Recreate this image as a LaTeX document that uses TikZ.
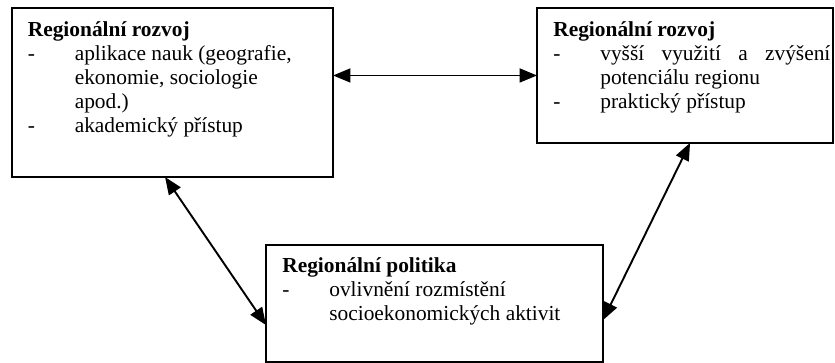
\documentclass[tikz,border=0pt]{standalone}
\usepackage{fontspec}
\setmainfont{Liberation Serif}
\usetikzlibrary{arrows.meta,positioning}
\newcommand{\odrazka}[1]{\par\noindent\hangindent=27pt\hangafter=1\makebox[27pt][l]{-}#1\par}

\begin{document}
\begin{tikzpicture}[>={Triangle[length=10pt,width=8pt]}, x=0.575pt, y=-0.575pt]
    \tikzset{ramec/.style= {draw, rectangle, line width=1.1pt, inner sep=0pt, outer sep=0pt, anchor=north west} }
    \tikzset{obsah/.style= {anchor=base west, inner sep=0pt, align=justify, font={\fontsize{12.3}{13.8}\selectfont}} }
    \tikzset{spoj/.style= {draw, <->, line width=1.1pt} }

    \useasboundingbox (0,0) rectangle (835,363);

    \node[ramec, minimum width=184.6pt, minimum height=97.2pt] (rozvoj-teorie) at (12,8) {};
    \node[ramec, minimum width=170.2pt, minimum height=77.6pt] (rozvoj-praxe) at (537,8) {};
    \node[ramec, minimum width=193.8pt, minimum height=67.3pt] (politika) at (266,245) {};

    \node[obsah, text width=163pt] (rozvoj-teorie-text) at (27.5,37) {\textbf{Regionální rozvoj}\odrazka{aplikace nauk (geografie,\newline ekonomie, sociologie\newline apod.)}\odrazka{akademický přístup}};
    \node[obsah, text width=159.3pt] (rozvoj-praxe-text) at (553,37) {\textbf{Regionální rozvoj}\odrazka{vyšší využití a zvýšení\linebreak potenciálu regionu}\odrazka{praktický přístup}};
    \node[obsah, text width=172.5pt] (politika-text) at (282,273) {\textbf{Regionální politika}\odrazka{ovlivnění rozmístění\newline socioekonomických aktivit}};

    \path[spoj] (rozvoj-praxe.west) -- (rozvoj-praxe.west -| rozvoj-teorie.east);
    \path[spoj] ([xshift=-4.3pt]rozvoj-teorie.south) -- ([yshift=-12.4pt]politika.west);
    \path[spoj] ([yshift=-9.5pt]politika.east) -- ([xshift=2.9pt]rozvoj-praxe.south);
\end{tikzpicture}
\end{document}
